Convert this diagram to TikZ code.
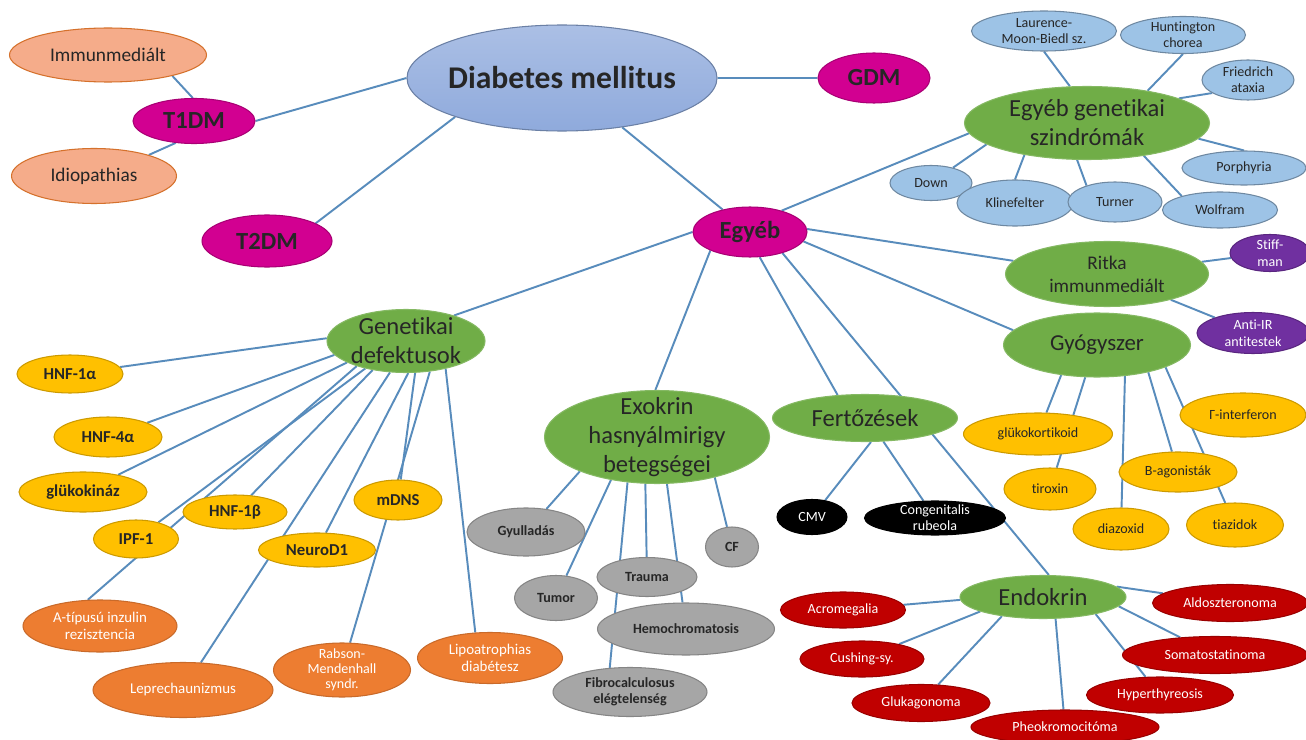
\documentclass[tikz,border=0pt]{standalone}
\usepackage{fontspec}
\setmainfont{Carlito}[Ligatures=NoCommon]
\usetikzlibrary{shapes.geometric,backgrounds}

\definecolor{dmblue}{RGB}{143,170,220}
\definecolor{dmpink}{RGB}{210,0,145}
\definecolor{dmsalmon}{RGB}{245,172,138}
\definecolor{dmsky}{RGB}{157,195,230}
\definecolor{dmgreen}{RGB}{112,173,71}
\definecolor{dmpurple}{RGB}{112,48,160}
\definecolor{dmgold}{RGB}{255,192,0}
\definecolor{dmorange}{RGB}{237,125,49}
\definecolor{dmgray}{RGB}{166,166,166}
\definecolor{dmred}{RGB}{192,0,0}
\definecolor{dmline}{RGB}{88,140,188}

\begin{document}
\begin{tikzpicture}[x=0.02cm, y=-0.02cm,
                    line width=1pt,
                    wh/.style 2 args={minimum width=#1*0.02cm, minimum height=#2*0.02cm}]
    \tikzstyle{bubble}=[ellipse, inner sep=-2cm, align=center, line width=0.6pt, text=black!85]
    \tikzstyle{dm}=[bubble, top color=dmblue!75!white, bottom color=dmblue, draw=dmblue!75!black, font=\fontsize{18}{20}\selectfont\bfseries]
    \tikzstyle{dmtype}=[bubble, fill=dmpink, draw=dmpink!80!black, font=\fontsize{14}{16}\selectfont\bfseries]
    \tikzstyle{subtype}=[bubble, fill=dmsalmon, draw=dmorange!90!black, font=\fontsize{11}{13}\selectfont]
    \tikzstyle{hub}=[bubble, fill=dmgreen, draw=dmgreen!85!white, font=\fontsize{14}{16.5}\selectfont]
    \tikzstyle{synd}=[bubble, fill=dmsky, draw=dmsky!70!black, font=\fontsize{8}{9}\selectfont]
    \tikzstyle{rare}=[bubble, fill=dmpurple, draw=dmpurple!80!black, text=white, font=\fontsize{8}{9.5}\selectfont]
    \tikzstyle{drug}=[bubble, fill=dmgold, draw=dmgold!80!black, font=\fontsize{8}{9}\selectfont]
    \tikzstyle{gene}=[bubble, fill=dmgold, draw=dmgold!80!black, font=\fontsize{9.5}{11}\selectfont\bfseries]
    \tikzstyle{gdef}=[bubble, fill=dmorange, draw=dmorange!85!black, text=white, font=\fontsize{8.5}{9.5}\selectfont]
    \tikzstyle{grayb}=[bubble, fill=dmgray, draw=dmgray!80!black, font=\fontsize{8}{9}\selectfont\bfseries]
    \tikzstyle{infect}=[bubble, fill=black, draw=black, text=white, font=\fontsize{8}{9}\selectfont]
    \tikzstyle{horm}=[bubble, fill=dmred, draw=dmred!80!black, text=white, font=\fontsize{8}{9}\selectfont]
    \tikzstyle{conn}=[draw=dmline, line width=1.1pt]

    \useasboundingbox (0,0) rectangle (1306,740);

    % main types
    \node[dm, wh={310}{106}] (dm) at (562,78) {Diabetes mellitus};
    \node[dmtype, wh={112}{50}] (gdm) at (874,78) {GDM};
    \node[dmtype, wh={122}{45}] (t1dm) at (194,121) {T1DM};
    \node[dmtype, wh={130}{52}] (t2dm) at (267,241) {T2DM};
    \node[dmtype, wh={114}{50}] (egyeb) at (750,232) {Egyéb};
    \node[subtype, wh={197}{54}] (immun) at (108,55) {Immunmediált};
    \node[subtype, wh={165}{55}] (idio) at (94,176) {Idiopathias};

    % egyéb genetikai szindrómák
    \node[hub, wh={245}{73}] (gensz) at (1087,123) {Egyéb genetikai\\szindrómák};
    \node[synd, wh={145}{40}] (lmb) at (1044,31) {Laurence-\\Moon-Biedl sz.};
    \node[synd, wh={125}{37}] (hunt) at (1183,35) {Huntington\\chorea};
    \node[synd, wh={92}{40}] (fried) at (1248,80) {Friedrich\\ataxia};
    \node[synd, wh={124}{34}] (porph) at (1244,168) {Porphyria};
    \node[synd, wh={82}{35}] (down) at (931,183) {Down};
    \node[synd, wh={116}{46}] (kline) at (1015,203) {Klinefelter};
    \node[synd, wh={94}{40}] (turner) at (1115,202) {Turner};
    \node[synd, wh={115}{36}] (wolf) at (1220,210) {Wolfram};

    % ritka immunmediált, gyógyszer
    \node[hub, wh={203}{65}, font=\fontsize{11}{13}\selectfont] (ritka) at (1107,274) {Ritka\\immunmediált};
    \node[rare, wh={80}{37}] (stiff) at (1270,253) {Stiff-\\man};
    \node[rare, wh={112}{41}] (antiir) at (1253,333) {Anti-IR\\antitestek};
    \node[hub, wh={187}{64}, font=\fontsize{13}{15}\selectfont] (gyogy) at (1097,345) {Gyógyszer};
    \node[drug, wh={126}{44}] (ginterf) at (1243,415) {Γ-interferon};
    \node[drug, wh={149}{42}] (gluko) at (1038,434) {glükokortikoid};
    \node[drug, wh={92}{42}] (tirox) at (1050,489) {tiroxin};
    \node[drug, wh={118}{40}] (bago) at (1178,472) {B-agonisták};
    \node[drug, wh={96}{42}] (diazox) at (1121,529) {diazoxid};
    \node[drug, wh={97}{44}] (tiazid) at (1235,525) {tiazidok};

    % fertőzések, endokrin
    \node[hub, wh={185}{47}] (fert) at (865,418) {Fertőzések};
    \node[infect, wh={70}{35}] (cmv) at (812,517) {CMV};
    \node[infect, wh={141}{34}] (rubeola) at (935,518) {Congenitalis\\rubeola};
    \node[hub, wh={166}{43}] (endo) at (1043,597) {Endokrin};
    \node[horm, wh={125}{36}] (acro) at (843,610) {Acromegalia};
    \node[horm, wh={155}{37}] (aldo) at (1230,603) {Aldoszteronoma};
    \node[horm, wh={124}{36}] (cush) at (862,659) {Cushing-sy.};
    \node[horm, wh={185}{37}] (somat) at (1215,655) {Somatostatinoma};
    \node[horm, wh={138}{37}] (gluka) at (921,703) {Glukagonoma};
    \node[horm, wh={147}{36}] (hyper) at (1160,695) {Hyperthyreosis};
    \node[horm, wh={188}{34}] (pheo) at (1065,727) {Pheokromocitóma};

    % exokrin hasnyálmirigy
    \node[hub, wh={225}{93}] (exo) at (657,437) {Exokrin\\hasnyálmirigy\\betegségei};
    \node[grayb, wh={118}{48}] (gyull) at (526,532) {Gyulladás};
    \node[grayb, wh={53}{40}] (cf) at (732,547) {CF};
    \node[grayb, wh={83}{45}] (tumor) at (556,598) {Tumor};
    \node[grayb, wh={100}{39}] (trauma) at (647,577) {Trauma};
    \node[grayb, wh={177}{52}] (hemo) at (686,629) {Hemochromatosis};
    \node[grayb, wh={154}{49}] (fibro) at (630,692) {Fibrocalculosus\\elégtelenség};

    % genetikai defektusok
    \node[hub, wh={158}{63}] (gendef) at (406,341) {Genetikai\\defektusok};
    \node[gene, wh={106}{38}] (hnf1a) at (70,374) {HNF-1α};
    \node[gene, wh={108}{40}] (hnf4a) at (108,437) {HNF-4α};
    \node[gene, wh={128}{40}] (gluk) at (83,492) {glükokináz};
    \node[gene, wh={104}{34}] (hnf1b) at (235,512) {HNF-1β};
    \node[gene, wh={85}{38}] (ipf) at (136,539) {IPF-1};
    \node[gene, wh={88}{40}] (mdns) at (398,500) {mDNS};
    \node[gene, wh={117}{34}] (neurod) at (317,550) {NeuroD1};
    \node[gdef, wh={154}{52}] (atip) at (100,626) {A-típusú inzulin\\rezisztencia};
    \node[gdef, wh={180}{55}] (lepre) at (183,690) {Leprechaunizmus};
    \node[gdef, wh={137}{54}, font=\fontsize{8}{8.5}\selectfont] (rabson) at (342,670) {Rabson-\\Mendenhall\\syndr.};
    \node[gdef, wh={145}{51}] (lipo) at (490,658) {Lipoatrophias\\diabétesz};

    \begin{pgfonlayer}{background}
        \fill[white] (0,0) rectangle (1306,740);
        \draw[conn] (dm.west) -- (t1dm.east) (dm.200) -- (t2dm.20)
                    (dm.east) -- (gdm.west) (dm) -- (egyeb);
        \draw[conn] (t1dm.93) -- (immun.342) (t1dm.230) -- (idio.21);
        % egyéb
        \draw[conn] (egyeb.34) -- (gensz.185) (egyeb.3) -- (ritka.172)
                    (egyeb.350) -- (gyogy.170) (egyeb.327) -- (endo.75)
                    (egyeb.291) -- (fert.140) (egyeb.205) -- (exo.92)
                    (egyeb.west) -- (gendef.28);
        \foreach \a/\leaf in {115/lmb.south, 28/hunt.south, 15/fried.200, 352/porph.north,
                              192/down, 207/kline.north, 255/turner.150, 330/wolf.160}
            \draw[conn] (gensz.\a) -- (\leaf);
        \draw[conn] (ritka) -- (stiff) (ritka) -- (antiir);
        \foreach \a/\leaf in {220/gluko, 250/tirox, 312/diazox, 332/bago, 342/tiazid}
            \draw[conn] (gyogy.\a) -- (\leaf);
        \draw[conn] (fert.284) -- (cmv) (fert.308) -- (rubeola);
        \foreach \a/\leaf in {182/acro, 193/cush, 205/gluka, 300/pheo, 342/hyper, 353/somat, 8/aldo}
            \draw[conn] (endo.\a) -- (\leaf);
        \foreach \a/\leaf in {204/gyull, 223/tumor, 256/trauma, 282/hemo, 325/cf, 237/fibro.130}
            \draw[conn] (exo.\a) -- (\leaf);
        \foreach \a/\leaf in {178/hnf1a, 191/hnf4a, 200/gluk, 207/atip.115, 214/ipf, 221/hnf1b,
                              243/lepre, 274/neurod, 286/mdns, 308/rabson, 325/lipo.120}
            \draw[conn] (gendef.\a) -- (\leaf);
    \end{pgfonlayer}
\end{tikzpicture}
\end{document}
